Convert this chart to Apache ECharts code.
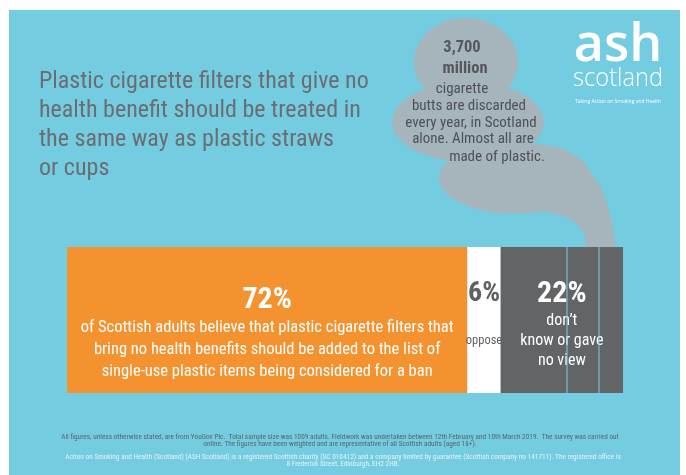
<!DOCTYPE html>
<html><head><meta charset="utf-8">
<script src="https://cdn.jsdelivr.net/npm/echarts@6/dist/echarts.min.js"></script>
<style>html,body{margin:0;padding:0;background:#fff}#c{width:686px;height:475px}</style>
</head><body><div id="c"></div><script>
// ---------- data ----------
const categories = ['Scottish adults'];
const groupNames = ['Support adding filters to the ban list', 'Oppose', 'Don\u2019t know / no view'];
const shareValues = [72, 6, 22];
const groupCaptions = [
  ['of Scottish adults believe that plastic cigarette filters that',
   'bring no health benefits should be added to the list of',
   'single-use plastic items being considered for a ban'],
  [' ', 'oppose', ' '],
  ['don\u2019t', 'know or gave', 'no view']
];
const titleLines = [
  'Plastic cigarette filters that give no',
  'health benefit should be treated in',
  'the same way as plastic straws',
  'or cups'
];
const smokeLines = ['3,700', 'million', 'cigarette', 'butts are discarded',
  'every year, in Scotland', 'alone. Almost all are', 'made of plastic.'];
const footerNote = [
  'All figures, unless otherwise stated, are from YouGov Plc.  Total sample size was 1009 adults. Fieldwork was undertaken between 12th February and 10th March 2019.  The survey was carried out',
  'online. The figures have been weighted and are representative of all Scottish adults (aged 18+).'
];
const footerCharity = [
  'Action on Smoking and Health (Scotland) (ASH Scotland) is a registered Scottish charity (SC 010412) and a company limited by guarantee (Scottish company no 141711). The registered office is',
  '8 Frederick Street, Edinburgh, EH2 2HB.'
];

// ---------- style ----------
const BG = '#73CCE0', ORANGE = '#F3922F', DARK = '#626466', SMOKE = '#A6B5BB';
const barColors = [ORANGE, '#FFFFFF', DARK];
const bigColors = ['#FFFFFF', '#5F6163', '#FFFFFF'];
const txtColors = ['#FFFFFF', '#5F6163', '#FFFFFF'];
const bigSizes = [30, 28, 30];
const txtSizes = [16.5, 12.5, 16];
const txtLineHeights = [22, 20, 20];
const labelOffsets = [13, 4, 4];
const FONT = 'Roboto', CFONT = 'Roboto Condensed';

function txt(x, y, s, o) {
  return { type: 'text', x: x, y: y, z: 5, scaleX: o.scaleX || 1, silent: true,
    style: { text: s, fontFamily: o.family || CFONT, fontSize: o.size, fontWeight: o.weight || 400,
      fill: o.color, align: o.align || 'center', textAlign: o.align || 'center',
      verticalAlign: 'middle', textVerticalAlign: 'middle' } };
}
function blob(cx, cy, rx, ry) {
  return { type: 'circle', z: -5, silent: true, x: cx, y: cy, scaleX: rx / 50, scaleY: ry / 50,
    shape: { cx: 0, cy: 0, r: 50 }, style: { fill: SMOKE } };
}

const graphics = [
  { type: 'rect', z: -10, silent: true, shape: { x: 9, y: 10, width: 671, height: 465 }, style: { fill: BG } },
  blob(466, 62, 52, 44),
  blob(468, 122, 76, 40),
  blob(515, 178, 76, 36),
  { type: 'polygon', z: -5, silent: true, shape: { smooth: 0.3, points: [
    [555,148],[582,162],[601,188],[610,215],[614,252],[588,252],[584,234],[572,220],[548,212],[520,200]] },
    style: { fill: SMOKE } },
  { type: 'line', z: 10, silent: true, shape: { x1: 567, y1: 247, x2: 567, y2: 393 }, style: { stroke: '#7ACBDD', lineWidth: 1 } },
  { type: 'line', z: 10, silent: true, shape: { x1: 599, y1: 247, x2: 599, y2: 393 }, style: { stroke: '#7ACBDD', lineWidth: 1 } }
];
const titleY = [82, 111, 140, 169];
titleLines.forEach((s, i) => graphics.push(txt(39, titleY[i], s, { size: 24, color: '#6B6D70', align: 'left' })));
const smokeX = [462, 465, 462, 469, 471, 473, 497];
const smokeY = [48, 69, 89, 106, 123, 139, 157];
smokeLines.forEach((s, i) => graphics.push(txt(smokeX[i], smokeY[i], s,
  i < 2 ? { size: 16.5, weight: 700, color: '#55585B' } : { size: 15, color: '#4E5154' })));
graphics.push(txt(618, 46, 'ash', { family: 'Open Sans', size: 52, weight: 600, color: '#FFFFFF' }));
graphics.push(txt(618, 79, 'scotland', { family: 'Open Sans', size: 26, weight: 300, color: '#FFFFFF', scaleX: 0.91 }));
graphics.push(txt(618, 101, 'Taking Action on Smoking and Health', { family: 'Open Sans', size: 5.5, color: '#FFFFFF', scaleX: 0.9 }));
const footY = [437, 444, 457, 464];
footerNote.forEach((s, i) => graphics.push(txt(340, footY[i], s, { size: 7.3, color: '#56676E' })));
footerCharity.forEach((s, i) => graphics.push(txt(343, footY[i + 2], s, { size: 7.3, color: '#E4F3F7' })));

const series = shareValues.map((v, i) => ({
  name: groupNames[i], type: 'bar', stack: 'share', barWidth: '100%', silent: true,
  data: [v], itemStyle: { color: barColors[i] },
  label: {
    show: true, position: 'inside', offset: [0, labelOffsets[i]],
    formatter: () => '{big|' + v + '%}\n' + groupCaptions[i].map(t => '{t|' + t + '}').join('\n'),
    rich: {
      big: { fontFamily: CFONT, fontSize: bigSizes[i], fontWeight: 700, color: bigColors[i], lineHeight: 34 },
      t: { fontFamily: CFONT, fontSize: txtSizes[i], color: txtColors[i], lineHeight: txtLineHeights[i] }
    }
  }
}));

const chart = echarts.init(document.getElementById('c'));
chart.setOption({
  backgroundColor: '#FFFFFF',
  animation: false,
  grid: { left: 67, right: 63, top: 247, bottom: 82 },
  xAxis: { type: 'value', min: 0, max: 100, show: false },
  yAxis: { type: 'category', data: categories, show: false },
  graphic: graphics,
  series: series
});
</script></body></html>
